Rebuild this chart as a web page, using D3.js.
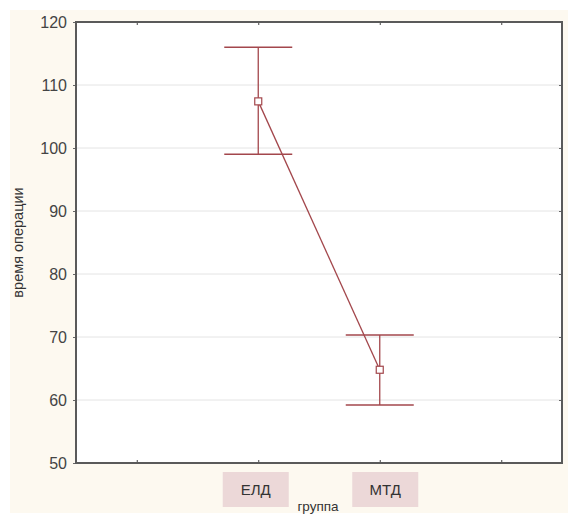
<!DOCTYPE html>
<html>
<head>
<meta charset="utf-8">
<script src="https://cdn.jsdelivr.net/npm/d3@7"></script>
<style>
  body { margin: 0; background: #fff; }
  text { font-family: "Liberation Sans", Arial, sans-serif; }
</style>
</head>
<body>
<div id="chart"></div>
<script>
// groups and their mean / error bounds (время операции)
var groups = ["ЕЛД", "МТД"];
var means = [107.4, 64.8];
var upper = [116.0, 70.3];
var lower = [99.0, 59.2];
var yTicks = [50, 60, 70, 80, 90, 100, 110, 120];

var W = 574, H = 515;
var margin = {top: 22, right: 12, bottom: 52, left: 76};
var width = W - margin.left - margin.right;
var height = H - margin.top - margin.bottom;

var lineColor = "#a3474c";

var svg = d3.select("#chart").append("svg")
  .attr("width", W)
  .attr("height", H);

// cream background panel
svg.append("rect")
  .attr("x", 10).attr("y", 10)
  .attr("width", 558).attr("height", 503)
  .attr("fill", "#fdf9f0");

var g = svg.append("g")
  .attr("transform", "translate(" + margin.left + "," + margin.top + ")");

// 4 slots on x, groups sit in slots 1 and 2
var x = d3.scaleLinear().domain([0, 4]).range([0, width]);
var slot = function(i) { return x(i + 1.5); };
var xTicks = [0.5, 1.5, 2.5, 3.5];

var y = d3.scaleLinear().domain([50, 120]).range([height, 0]);

g.append("rect")
  .attr("width", width).attr("height", height)
  .attr("fill", "#fff");

// grid
g.selectAll(".grid")
  .data(yTicks.slice(1, -1))
  .enter().append("line")
  .attr("x1", 0).attr("x2", width)
  .attr("y1", function(d) { return y(d); })
  .attr("y2", function(d) { return y(d); })
  .attr("stroke", "#e4e4e4")
  .attr("stroke-width", 1);

// axes
var yAxis = g.append("g")
  .call(d3.axisLeft(y).tickValues(yTicks).tickSize(3).tickPadding(6));
yAxis.select(".domain").remove();
yAxis.selectAll("line").attr("stroke", "#666");
yAxis.selectAll("text")
  .style("font-size", "16px")
  .attr("fill", "#444");

var yAxisR = g.append("g")
  .attr("transform", "translate(" + width + ",0)")
  .call(d3.axisLeft(y).tickValues(yTicks).tickSize(3).tickFormat(""));
yAxisR.select(".domain").remove();
yAxisR.selectAll("line").attr("stroke", "#666");

var xAxisB = g.append("g")
  .attr("transform", "translate(0," + height + ")")
  .call(d3.axisTop(x).tickValues(xTicks).tickSize(3).tickFormat(""));
xAxisB.select(".domain").remove();
xAxisB.selectAll("line").attr("stroke", "#444");

var xAxisT = g.append("g")
  .call(d3.axisBottom(x).tickValues(xTicks).tickSize(3).tickFormat(""));
xAxisT.select(".domain").remove();
xAxisT.selectAll("line").attr("stroke", "#444");

// frame
g.append("rect")
  .attr("width", width).attr("height", height)
  .attr("fill", "none")
  .attr("stroke", "#5a5a5a")
  .attr("stroke-width", 2);

// connecting line
var line = d3.line()
  .x(function(d, i) { return slot(i); })
  .y(function(d) { return y(d); });

g.append("path")
  .datum(means)
  .attr("d", line)
  .attr("fill", "none")
  .attr("stroke", lineColor)
  .attr("stroke-width", 1.3);

// error bars
var capW = 34;
var bars = g.selectAll(".err")
  .data(groups)
  .enter().append("g")
  .attr("class", "err");

bars.append("line")
  .attr("x1", function(d, i) { return slot(i); })
  .attr("x2", function(d, i) { return slot(i); })
  .attr("y1", function(d, i) { return y(upper[i]); })
  .attr("y2", function(d, i) { return y(lower[i]); })
  .attr("stroke", lineColor).attr("stroke-width", 1.3);

bars.append("line")
  .attr("x1", function(d, i) { return slot(i) - capW; })
  .attr("x2", function(d, i) { return slot(i) + capW; })
  .attr("y1", function(d, i) { return y(upper[i]); })
  .attr("y2", function(d, i) { return y(upper[i]); })
  .attr("stroke", lineColor).attr("stroke-width", 1.5);

bars.append("line")
  .attr("x1", function(d, i) { return slot(i) - capW; })
  .attr("x2", function(d, i) { return slot(i) + capW; })
  .attr("y1", function(d, i) { return y(lower[i]); })
  .attr("y2", function(d, i) { return y(lower[i]); })
  .attr("stroke", lineColor).attr("stroke-width", 1.5);

bars.append("rect")
  .attr("x", function(d, i) { return slot(i) - 3.5; })
  .attr("y", function(d, i) { return y(means[i]) - 3.5; })
  .attr("width", 7).attr("height", 7)
  .attr("fill", "#fff")
  .attr("stroke", lineColor).attr("stroke-width", 1.2);

// category labels in pink boxes (boxes sit a little toward the centre)
var labels = g.selectAll(".cat")
  .data(groups)
  .enter().append("g")
  .attr("class", "cat")
  .attr("transform", function(d, i) {
    var shift = i === 0 ? -2.5 : 5.5;
    return "translate(" + (slot(i) + shift) + "," + (height + 27) + ")";
  });

labels.append("rect")
  .attr("x", -33).attr("y", -18)
  .attr("width", 66).attr("height", 35)
  .attr("fill", "#ecd8d8");

labels.append("text")
  .attr("text-anchor", "middle")
  .attr("dy", "0.35em")
  .style("font-size", "15px")
  .attr("fill", "#333")
  .text(function(d) { return d; });

// axis titles
svg.append("text")
  .attr("x", 318).attr("y", 511)
  .attr("text-anchor", "middle")
  .style("font-size", "13.5px")
  .attr("fill", "#333")
  .text("группа");

svg.append("text")
  .attr("transform", "translate(23," + (margin.top + height / 2) + ") rotate(-90)")
  .attr("text-anchor", "middle")
  .style("font-size", "14.5px")
  .attr("fill", "#333")
  .text("время операции");
</script>
</body>
</html>
